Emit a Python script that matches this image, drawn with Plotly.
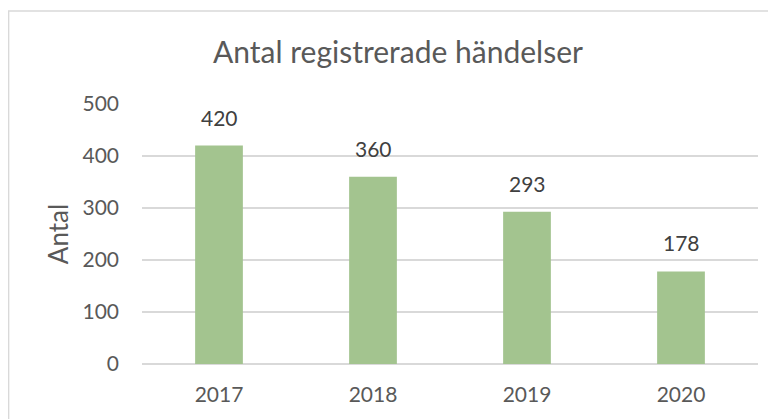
import plotly.graph_objects as go

years = ["2017", "2018", "2019", "2020"]
counts = [420, 360, 293, 178]
title = "Antal registrerade händelser"
y_title = "Antal"
y_ticks = [0, 100, 200, 300, 400, 500]

# page body has an 8px margin; figure coordinates are offset by it
OFF = 8
W, H = 776 - OFF, 419 - OFF
ml, mr, mt, mb = 142 - OFF, 18, 104 - OFF, 55
pw = W - ml - mr
ph = H - mt - mb
FONT = "Lato, Open Sans, sans-serif"

def px_to_paper_x(x):
    return (x - OFF - ml) / pw

def px_to_paper_y(y):
    return (H - mb - (y - OFF)) / ph

fig = go.Figure(go.Bar(
    x=years, y=counts,
    marker=dict(color="#A3C48F", line=dict(width=0)),
    cliponaxis=False,
))

# on a category axis, numeric-looking strings are read as indices, so use the category index
for i, v in enumerate(counts):
    fig.add_annotation(x=i, y=v, xref="x", yref="y", text=str(v), showarrow=False,
                       xanchor="center", yanchor="bottom", yshift=14,
                       font=dict(size=21, color="#404040", family=FONT))

fig.update_layout(
    width=W, height=H,
    margin=dict(l=ml, r=mr, t=mt, b=mb),
    paper_bgcolor="white", plot_bgcolor="white",
    font=dict(family=FONT, color="#595959"),
    title=dict(text=title, x=(398 - OFF) / W, xanchor="center", y=1 - (52 - OFF) / H, yanchor="middle",
               font=dict(size=30, color="#595959")),
    bargap=0.69,
    showlegend=False,
    xaxis=dict(type="category", showgrid=False, showline=False, ticks="", ticklabelstandoff=16,
               tickfont=dict(size=21, color="#595959")),
    yaxis=dict(range=[0, 500], tickvals=y_ticks, showgrid=True, gridcolor="#D9D9D9", gridwidth=1.5,
               zeroline=True, zerolinecolor="#D9D9D9", zerolinewidth=1.5,
               showline=False, ticks="", ticklabelstandoff=22,
               tickfont=dict(size=21, color="#595959"),
               title=dict(text=y_title, font=dict(size=26, color="#595959"), standoff=6)),
    shapes=[
        dict(type="line", xref="paper", yref="paper",
             x0=px_to_paper_x(8), x1=px_to_paper_x(800),
             y0=px_to_paper_y(11), y1=px_to_paper_y(11),
             line=dict(color="#D9D9D9", width=1.5)),
        dict(type="line", xref="paper", yref="paper",
             x0=px_to_paper_x(8.6), x1=px_to_paper_x(8.6),
             y0=px_to_paper_y(11), y1=px_to_paper_y(440),
             line=dict(color="#D9D9D9", width=1.5)),
    ],
)

fig.write_html("out.html", config={"displayModeBar": False})
